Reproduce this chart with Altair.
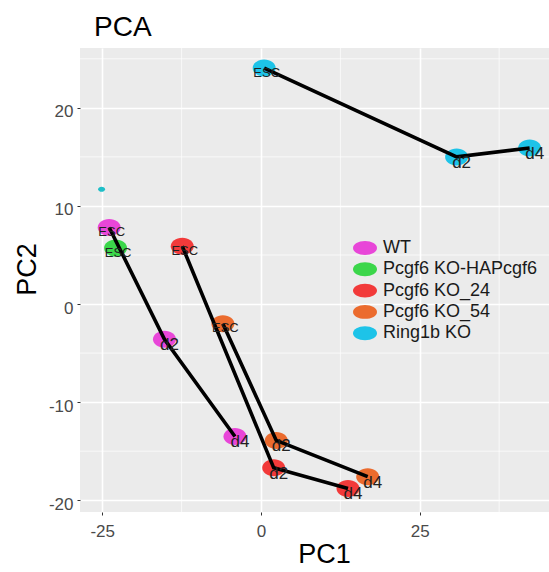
import altair as alt
import pandas as pd

# ---- data ----
series = ["WT", "WT", "WT",
          "Pcgf6 KO-HAPcgf6",
          "Pcgf6 KO_24", "Pcgf6 KO_24", "Pcgf6 KO_24",
          "Pcgf6 KO_54", "Pcgf6 KO_54", "Pcgf6 KO_54",
          "Ring1b KO", "Ring1b KO", "Ring1b KO"]
stage = ["ESC", "d2", "d4",
         "ESC",
         "ESC", "d2", "d4",
         "ESC", "d2", "d4",
         "ESC", "d2", "d4"]
step = [0, 1, 2, 0, 0, 1, 2, 0, 1, 2, 0, 1, 2]
pc1 = [-23.9, -15.2, -4.1, -22.9, -12.4, 2.0, 13.7, -6.0, 2.4, 16.8, 0.5, 30.8, 42.3]
pc2 = [7.8, -3.6, -13.5, 5.7, 5.9, -16.7, -18.8, -2.0, -13.9, -17.6, 24.05, 15.0, 15.9]

extra_pc1 = [-25.1]
extra_pc2 = [11.7]

legend_order = ["WT", "Pcgf6 KO-HAPcgf6", "Pcgf6 KO_24", "Pcgf6 KO_54", "Ring1b KO"]
legend_colors = ["#E846D8", "#3BD64A", "#F23A3A", "#EB6B2E", "#1DC3E8"]

x_major = [-25, 0, 25]
y_major = [-20, -10, 0, 10, 20]
x_minor = [-12.5, 12.5, 37.5]
y_minor = [-15, -5, 5, 15, 25]

FONT = "Liberation Sans"
ELLIPSE = "M-1,0A1,0.74,0,1,1,1,0A1,0.74,0,1,1,-1,0Z"
LEG_ELLIPSE = "M-1,0A1,0.58,0,1,1,1,0A1,0.58,0,1,1,-1,0Z"

df = pd.DataFrame({"series": series, "stage": stage, "step": step, "pc1": pc1, "pc2": pc2})
df_esc = df[df["stage"] == "ESC"]
df_d = df[df["stage"] != "ESC"]
df_extra = pd.DataFrame({"pc1": extra_pc1, "pc2": extra_pc2})
df_xminor = pd.DataFrame({"pc1": x_minor})
df_yminor = pd.DataFrame({"pc2": y_minor})

xscale = alt.Scale(domain=[-28.5, 45.35], nice=False, zero=False)
yscale = alt.Scale(domain=[-21.2, 26.1], nice=False, zero=False)

common_axis = dict(grid=True, gridColor="white", gridWidth=1.6, domain=False,
                   tickColor="#333333", tickSize=3, tickWidth=1,
                   labelFontSize=17, labelColor="#4a4a4a", labelFont=FONT,
                   labelExpr="datum.value + ''",
                   titleFontSize=27, titleFontWeight="normal", titleColor="black",
                   titleFont=FONT)

xaxis = alt.Axis(values=x_major, title="PC1", labelPadding=8,
                 titleX=244, titleY=50, titleAlign="center", titleBaseline="alphabetic",
                 **common_axis)
yaxis = alt.Axis(values=y_major, title="PC2", labelPadding=4, labelOffset=4,
                 titleX=-45, titleY=221, titleAlign="center", titleBaseline="alphabetic",
                 titleAngle=270, **common_axis)

X = alt.X("pc1:Q", scale=xscale, axis=xaxis)
Y = alt.Y("pc2:Q", scale=yscale, axis=yaxis)

minor_x = alt.Chart(df_xminor).mark_rule(color="white", strokeWidth=0.7).encode(x=X)
minor_y = alt.Chart(df_yminor).mark_rule(color="white", strokeWidth=0.7).encode(y=Y)

points = alt.Chart(df).mark_point(shape=ELLIPSE, filled=True, size=529, opacity=1,
                                  strokeWidth=0).encode(
    x=X, y=Y,
    color=alt.Color("series:N",
                    scale=alt.Scale(domain=legend_order, range=legend_colors),
                    sort=legend_order,
                    legend=alt.Legend(title=None, orient="none", legendX=273, legendY=188,
                                      symbolType=LEG_ELLIPSE, symbolSize=576,
                                      symbolStrokeWidth=0, symbolOpacity=1,
                                      labelFontSize=18, labelColor="#1a1a1a",
                                      labelFont=FONT, labelOffset=6, rowPadding=0.3,
                                      padding=0)),
)

extra = alt.Chart(df_extra).mark_point(shape=ELLIPSE, filled=True, size=49, opacity=1,
                                       color="#1FBFC8", strokeWidth=0).encode(x=X, y=Y)

lines = alt.Chart(df).mark_line(color="black", strokeWidth=3.6).encode(
    x=X, y=Y, detail="series:N", order="step:Q")

esc_text = alt.Chart(df_esc).mark_text(fontSize=13, font=FONT, color="#222222",
                                       dx=2.5, dy=4.5).encode(x=X, y=Y, text="stage:N")
d_text = alt.Chart(df_d).mark_text(fontSize=17, font=FONT, color="#222222",
                                   dx=5, dy=6).encode(x=X, y=Y, text="stage:N")

chart = alt.layer(minor_x, minor_y, points, extra, lines, esc_text, d_text).properties(
    width=469, height=464,
    autosize=alt.AutoSizeParams(type="none"),
    padding={"left": 80, "top": 48, "right": 0, "bottom": 60},
    title=alt.TitleParams("PCA", anchor="start", frame="group", fontSize=28,
                          fontWeight="normal", color="black", font=FONT, dx=14,
                          offset=6),
).configure(background="white", font=FONT).configure_view(fill="#EBEBEB", strokeWidth=0)

chart.save("out.html", embed_options={"renderer": "svg", "actions": False})
